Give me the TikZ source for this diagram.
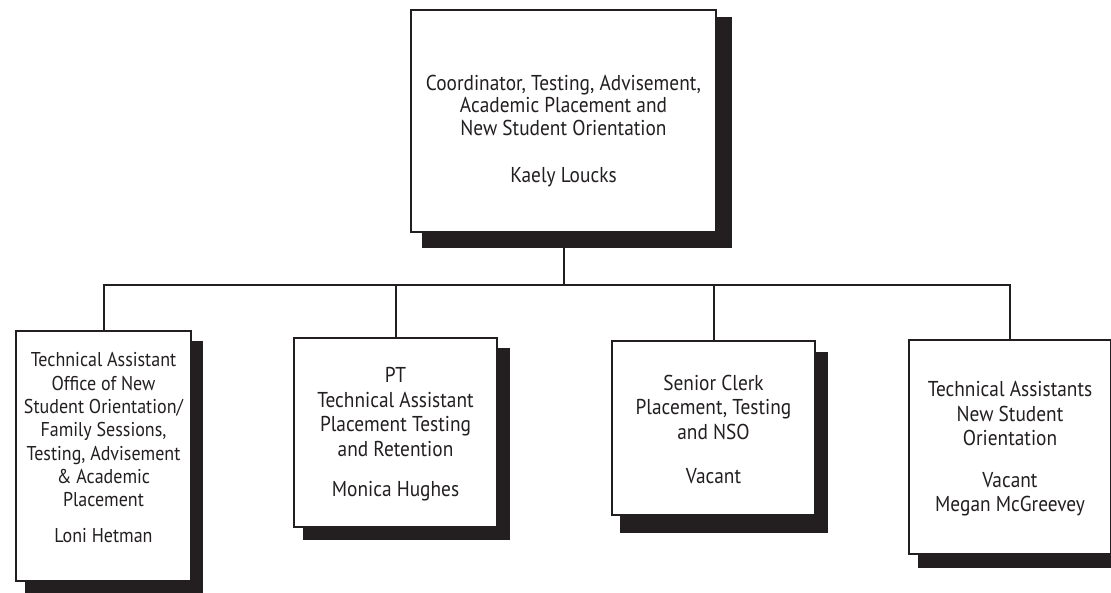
\documentclass[tikz,border=0pt]{standalone}
\usepackage{fontspec}
\setmainfont{PT Sans}[FakeStretch=0.9]
\usetikzlibrary{backgrounds,calc}
\definecolor{ink}{HTML}{231F20}
\tikzset{
  orgbox/.style={draw=ink, line width=2.5pt, fill=white, inner sep=0pt},
  boxtext/.style={align=center, text=ink, inner sep=0pt, anchor=north,
    font=\fontsize{21.5}{24.5}\selectfont},
  link/.style={draw=ink, line width=2pt},
  shade/.style={fill=ink}
}
\begin{document}
\begin{tikzpicture}[x=1pt,y=-1pt]
\useasboundingbox (0,0) rectangle (1111,593);
% boxes
\node[orgbox, minimum width=305pt, minimum height=222pt] (top) at (563.5,121) {};
\node[orgbox, minimum width=175pt, minimum height=250pt] (b1) at (103.5,456) {};
\node[orgbox, minimum width=203pt, minimum height=189pt] (b2) at (395.5,432.5) {};
\node[orgbox, minimum width=203pt, minimum height=174pt] (b3) at (713.5,428) {};
\node[orgbox, minimum width=202pt, minimum height=214pt] (b4) at (1010,447) {};
% texts
\node[boxtext, font=\fontsize{21.5}{22.7}\selectfont] (ttop) at (top.center |- 0,74.5)
  {Coordinator, Testing, Advisement,\\Academic Placement and\\New Student Orientation\\[24pt]Kaely Loucks};
\node[boxtext, font=\fontsize{20}{23.3}\selectfont] (tb1) at (b1.center |- 0,352.5)
  {Technical Assistant\\Office of New\\Student Orientation/\\Family Sessions,\\Testing, Advisement\\\& Academic\\Placement\\[12pt]Loni Hetman};
\node[boxtext] (tb2) at (b2.center |- 0,367.5)
  {PT\\Technical Assistant\\Placement Testing\\and Retention\\[16pt]Monica Hughes};
\node[boxtext] (tb3) at (b3.center |- 0,374.5)
  {Senior Clerk\\Placement, Testing\\and NSO\\[20pt]Vacant};
\node[boxtext] (tb4) at (b4.center |- 0,381.5)
  {Technical Assistants\\New Student\\Orientation\\[17pt]Vacant\\Megan McGreevey};
\begin{scope}[on background layer]
  \fill[shade] ($(top.north west)+(12,8)$) rectangle ($(top.south east)+(15,15)$);
  \fill[shade] ($(b1.north west)+(10,11)$) rectangle ($(b1.south east)+(11,11)$);
  \fill[shade] ($(b2.north west)+(10,11)$) rectangle ($(b2.south east)+(12,12)$);
  \fill[shade] ($(b3.north west)+(9,12)$) rectangle ($(b3.south east)+(12,17)$);
  \fill[shade] ($(b4.north west)+(10,11)$) rectangle ($(b4.south east)+(12,13)$);
\end{scope}
\coordinate (bus) at (0,285);
\draw[link] (top.south) -- (top.south |- bus);
\draw[link] (b1.north) -- (b1.north |- bus) -- (b4.north |- bus) -- (b4.north);
\draw[link] (b2.north) -- (b2.north |- bus);
\draw[link] (b3.north) -- (b3.north |- bus);
\end{tikzpicture}
\end{document}
